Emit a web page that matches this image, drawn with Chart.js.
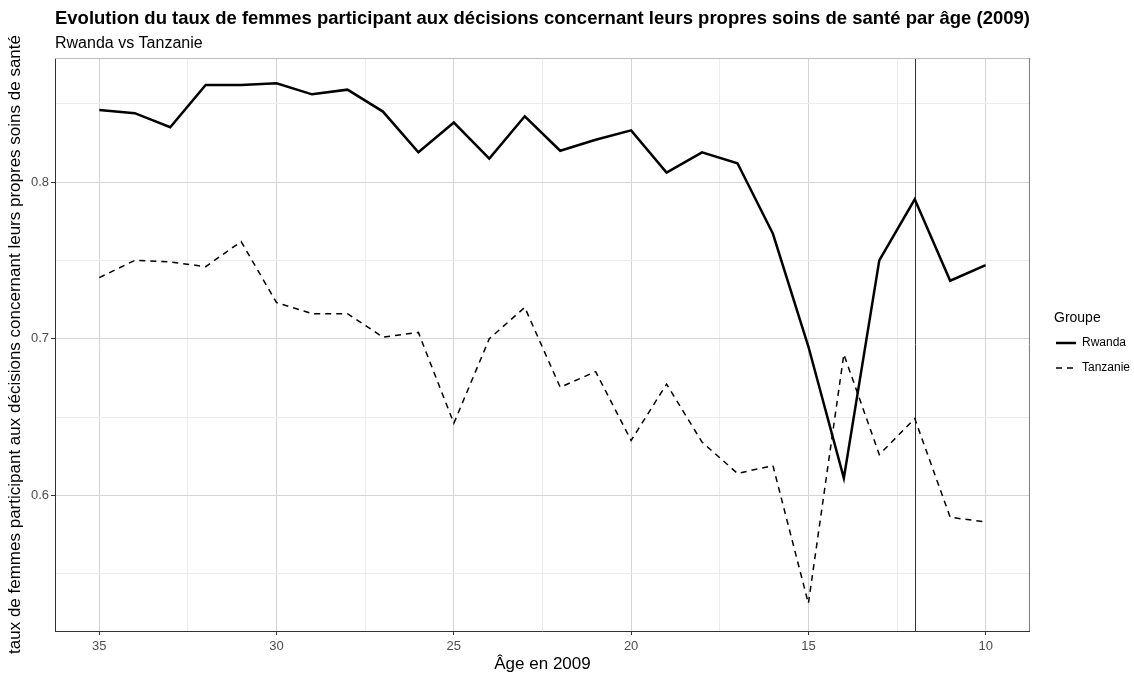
<!DOCTYPE html>
<html>
<head>
<meta charset="utf-8">
<script src="https://cdn.jsdelivr.net/npm/chart.js@4.4.1/dist/chart.umd.min.js"></script>
<style>
  html, body { margin: 0; padding: 0; background: #fff; }
  #wrap { width: 1134px; height: 677px; position: relative; }
</style>
</head>
<body>
<div id="wrap"><canvas id="myChart" width="1134" height="677"></canvas></div>
<script>
// ages (x), read right to left on the reversed axis
const ages = [35, 34, 33, 32, 31, 30, 29, 28, 27, 26, 25, 24, 23, 22, 21, 20, 19, 18, 17, 16, 15, 14, 13, 12, 11, 10];
const rwanda = [0.846, 0.844, 0.835, 0.862, 0.862, 0.863, 0.856, 0.859, 0.845, 0.819, 0.838, 0.815, 0.842, 0.820, 0.827, 0.833,
  0.806, 0.819, 0.812, 0.767, 0.695, 0.611, 0.750, 0.789, 0.737, 0.747];
const tanzanie = [0.739, 0.750, 0.749, 0.746, 0.762, 0.723, 0.716, 0.716, 0.701, 0.704, 0.646, 0.700, 0.720, 0.669, 0.679, 0.635,
  0.671, 0.634, 0.614, 0.619, 0.531, 0.690, 0.626, 0.649, 0.586, 0.583];
const xMajor = [10, 15, 20, 25, 30, 35];
const xMinor = [12.5, 17.5, 22.5, 27.5, 32.5];
const yMajor = [0.6, 0.7, 0.8];
const yMinor = [0.55, 0.65, 0.75, 0.85];
const markAge = 12;
const legendTitle = 'Groupe';

const isMajor = (v, list) => list.some(m => Math.abs(m - v) < 1e-9);
const font = "'Liberation Sans', Arial, sans-serif";

// vertical line at age 12, panel border, legend placement + title
const frame = {
  id: 'frame',
  afterLayout(chart) {
    const lg = chart.legend;
    const dx = 1043 - lg.left;
    lg.left += dx; lg.right += dx;
    const dy = 324 - lg.top;
    lg.top += dy; lg.bottom += dy;
  },
  beforeDatasetsDraw(chart) {
    const { ctx, chartArea: a, scales } = chart;
    ctx.save();
    let x = Math.round(scales.x.getPixelForValue(markAge)) + 0.5;
    ctx.strokeStyle = '#333';
    ctx.lineWidth = 1;
    ctx.beginPath();
    ctx.moveTo(x, a.top);
    ctx.lineTo(x, a.bottom);
    ctx.stroke();
    ctx.restore();
  },
  afterDraw(chart) {
    const { ctx, chartArea: a } = chart;
    ctx.save();
    ctx.lineWidth = 1;
    ctx.strokeStyle = '#bdbdbd';
    ctx.beginPath();
    ctx.moveTo(a.left, a.top + 0.5);
    ctx.lineTo(a.right, a.top + 0.5);
    ctx.stroke();
    ctx.strokeStyle = '#7a7a7a';
    ctx.beginPath();
    ctx.moveTo(a.right - 0.5, a.top);
    ctx.lineTo(a.right - 0.5, a.bottom);
    ctx.stroke();
    const lg = chart.legend;
    const first = lg.legendHitBoxes[0];
    ctx.fillStyle = '#000';
    ctx.font = '14px ' + font;
    ctx.textAlign = 'left';
    ctx.textBaseline = 'middle';
    ctx.fillText(legendTitle, first.left - 2, first.top + first.height / 2 - 25);
    ctx.restore();
  }
};

Chart.defaults.font.family = font;
Chart.defaults.color = '#000';

let ctx = document.getElementById('myChart').getContext('2d');
let myChart = new Chart(ctx, {
  type: 'line',
  data: {
    datasets: [{
      label: 'Rwanda',
      data: ages.map((a, i) => ({ x: a, y: rwanda[i] })),
      borderColor: '#000',
      borderWidth: 2.5,
      pointRadius: 0,
      pointStyle: 'line',
      tension: 0
    }, {
      label: 'Tanzanie',
      data: ages.map((a, i) => ({ x: a, y: tanzanie[i] })),
      borderColor: '#000',
      borderWidth: 1.5,
      borderDash: [6, 5],
      pointRadius: 0,
      pointStyle: 'line',
      tension: 0
    }]
  },
  options: {
    responsive: false,
    animation: false,
    events: [],
    layout: { padding: { left: 4, right: 7, top: 0, bottom: 2 } },
    plugins: {
      title: {
        display: true,
        fullSize: false,
        align: 'start',
        text: 'Evolution du taux de femmes participant aux décisions concernant leurs propres soins de santé par âge (2009)',
        font: { size: 19, weight: 'bold' },
        color: '#000',
        padding: { top: 7, bottom: 2 }
      },
      subtitle: {
        display: true,
        fullSize: false,
        align: 'start',
        text: 'Rwanda vs Tanzanie',
        font: { size: 16 },
        color: '#000',
        padding: { top: 2, bottom: 5 }
      },
      legend: {
        position: 'right',
        align: 'start',
        labels: {
          usePointStyle: true,
          pointStyle: 'line',
          pointStyleWidth: 20,
          boxHeight: 12,
          font: { size: 12 },
          color: '#000',
          padding: 13,
          generateLabels: (chart) => {
            const items = Chart.defaults.plugins.legend.labels.generateLabels(chart);
            items.forEach((it, i) => {
              const ds = chart.data.datasets[i];
              it.lineDash = ds.borderDash || [];
              it.lineWidth = ds.borderWidth;
              it.strokeStyle = '#000';
            });
            return items;
          }
        }
      },
      tooltip: { enabled: false }
    },
    scales: {
      x: {
        type: 'linear',
        reverse: true,
        min: 8.75,
        max: 36.25,
        afterBuildTicks: (scale) => {
          scale.ticks = xMajor.concat(xMinor).sort((a, b) => a - b).map(v => ({ value: v }));
        },
        afterFit: (scale) => { scale.height = 44; },
        ticks: {
          autoSkip: false,
          maxRotation: 0,
          padding: 4,
          color: '#4d4d4d',
          font: { size: 13 },
          callback: (v) => isMajor(v, xMajor) ? String(v) : ''
        },
        grid: {
          color: (c) => isMajor(c.tick.value, xMajor) ? '#d4d4d4' : '#ececec',
          tickColor: (c) => isMajor(c.tick.value, xMajor) ? '#333' : 'rgba(0,0,0,0)',
          tickLength: 4
        },
        border: { display: true, color: '#333', width: 1 },
        title: {
          display: true,
          text: 'Âge en 2009',
          font: { size: 17 },
          color: '#000',
          padding: { top: 0, bottom: 0 }
        }
      },
      y: {
        min: 0.5134,
        max: 0.8792,
        afterBuildTicks: (scale) => {
          scale.ticks = yMajor.concat(yMinor).sort((a, b) => a - b).map(v => ({ value: v }));
        },
        afterFit: (scale) => { scale.width = 51; },
        ticks: {
          autoSkip: false,
          padding: 2,
          color: '#4d4d4d',
          font: { size: 13 },
          callback: (v) => isMajor(v, yMajor) ? v.toFixed(1) : ''
        },
        grid: {
          color: (c) => isMajor(c.tick.value, yMajor) ? '#d4d4d4' : '#ececec',
          tickColor: (c) => isMajor(c.tick.value, yMajor) ? '#333' : 'rgba(0,0,0,0)',
          tickLength: 4
        },
        border: { display: true, color: '#333', width: 1 },
        title: {
          display: true,
          text: 'taux de femmes participant aux décisions concernant leurs propres soins de santé',
          font: { size: 17 },
          color: '#000',
          padding: { top: 1, bottom: 2 }
        }
      }
    }
  },
  plugins: [frame]
});
</script>
</body>
</html>
